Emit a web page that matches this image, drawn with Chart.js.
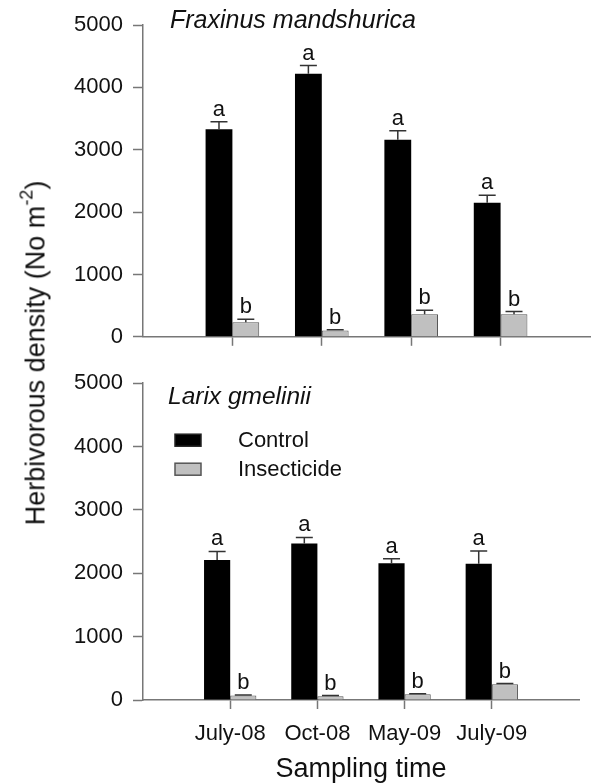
<!DOCTYPE html>
<html><head><meta charset="utf-8">
<script src="https://cdn.jsdelivr.net/npm/chart.js@4.4.1/dist/chart.umd.min.js"></script>
<style>
html,body{margin:0;padding:0;background:#fff;}
#wrap{position:relative;width:591px;height:783px;overflow:hidden;background:#fff;}
#c1{position:absolute;left:0;top:0;}
#c2{position:absolute;left:0;top:360px;}
#ytitle{position:absolute;left:36px;top:353px;transform:translate(-50%,-50%) rotate(-90deg);font:27px "Liberation Sans",Arial,sans-serif;white-space:nowrap;color:#111;line-height:1;}
#ytitle sup{font-size:18px;line-height:0;position:relative;top:-2px;vertical-align:super;}
</style></head>
<body><div id="wrap">
<canvas id="c1" width="591" height="360"></canvas>
<canvas id="c2" width="591" height="423"></canvas>
<div id="ytitle">Herbivorous density (No m<sup>-2</sup>)</div>
</div>
<script>
// ---- data ----
const categories = ['July-08', 'Oct-08', 'May-09', 'July-09'];
const seriesNames = ['Control', 'Insecticide'];
const yTicks = [0, 1000, 2000, 3000, 4000, 5000];
const fraxControl = [3330, 4220, 3160, 2150];
const fraxControlErr = [120, 130, 145, 120];
const fraxInsect = [235, 100, 360, 360];
const fraxInsectErr = [45, 15, 65, 45];
const larixControl = [2210, 2470, 2160, 2150];
const larixControlErr = [135, 95, 70, 200];
const larixInsect = [70, 60, 90, 250];
const larixInsectErr = [10, 10, 10, 10];
const controlLetters = ['a', 'a', 'a', 'a'];
const insectLetters = ['b', 'b', 'b', 'b'];
const panelTitles = ['Fraxinus mandshurica', 'Larix gmelinii'];
const xTitle = 'Sampling time';

// ---- helpers ----
const FONT = '"Liberation Sans", Arial, sans-serif';
const TEXT = '#111';
const AXIS = '#777';
const xLabels = ['', ...categories, ''];
const pad = a => [null, ...a, null];

const errLetterPlugin = {
  id: 'errLetters',
  afterDatasetsDraw(chart) {
    const ctx = chart.ctx, ys = chart.scales.y;
    chart.data.datasets.forEach((ds, di) => {
      const meta = chart.getDatasetMeta(di);
      meta.data.forEach((bar, i) => {
        const v = ds.data[i];
        if (v == null) return;
        const e = ds.errors[i];
        const x = bar.x;
        const yTop = ys.getPixelForValue(v);
        const yErr = ys.getPixelForValue(v + e);
        ctx.save();
        ctx.strokeStyle = '#333';
        ctx.lineWidth = 1.5;
        ctx.beginPath();
        ctx.moveTo(x, yTop); ctx.lineTo(x, yErr);
        ctx.moveTo(x - 8.5, yErr); ctx.lineTo(x + 8.5, yErr);
        ctx.stroke();
        ctx.fillStyle = TEXT;
        ctx.font = '22px ' + FONT;
        ctx.textAlign = 'center';
        ctx.textBaseline = 'alphabetic';
        ctx.fillText(ds.letters[i], x, yErr - 6);
        ctx.restore();
      });
    });
  }
};

const panelPlugin = {
  id: 'panelDeco',
  afterDraw(chart) {
    const o = chart.options.plugins.panelDeco || {};
    const ctx = chart.ctx, ca = chart.chartArea;
    ctx.save();
    ctx.fillStyle = TEXT;
    ctx.textAlign = 'left';
    ctx.textBaseline = 'alphabetic';
    ctx.font = 'italic ' + o.titleSize + 'px ' + FONT;
    ctx.fillText(o.title, ca.left + o.titleDx, ca.top + o.titleDy);
    if (o.legend) {
      chart.data.datasets.forEach((ds, i) => {
        const bx = ca.left + 32, by = ca.top + 51 + i * 29;
        ctx.fillStyle = ds.backgroundColor;
        ctx.fillRect(bx, by, 26, 12);
        ctx.strokeStyle = ds.legendBorder;
        ctx.lineWidth = 1.5;
        ctx.strokeRect(bx, by, 26, 12);
        ctx.fillStyle = TEXT;
        ctx.font = '22px ' + FONT;
        ctx.fillText(ds.label, ca.left + 95, by + 13);
      });
    }
    ctx.restore();
  }
};

function makeChart(id, ctrl, ctrlErr, ins, insErr, cfg) {
  return new Chart(document.getElementById(id), {
    type: 'bar',
    data: {
      labels: xLabels,
      datasets: [
        { label: seriesNames[0], data: pad(ctrl), errors: pad(ctrlErr), letters: pad(controlLetters),
          backgroundColor: '#000', borderColor: '#000', borderWidth: 0, legendBorder: '#222' },
        { label: seriesNames[1], data: pad(ins), errors: pad(insErr), letters: pad(insectLetters),
          backgroundColor: '#c0c0c0', borderColor: '#555', borderWidth: 1, legendBorder: '#555' }
      ]
    },
    options: {
      responsive: false, animation: false, devicePixelRatio: 1,
      categoryPercentage: 0.6, barPercentage: 1.0,
      layout: { padding: { left: 0, right: 1, top: cfg.top, bottom: 0 } },
      plugins: { legend: { display: false }, tooltip: { enabled: false }, title: { display: false },
        panelDeco: cfg.deco },
      scales: {
        x: {
          type: 'category', offset: false,
          grid: { offset: false, drawOnChartArea: false, drawTicks: true, tickLength: 9, tickWidth: 1.5,
            tickColor: c => (c.index === 0 || c.index === xLabels.length - 1) ? 'rgba(0,0,0,0)' : AXIS },
          border: { color: AXIS, width: 1.5 },
          ticks: { display: cfg.showX, autoSkip: false, maxRotation: 0, color: TEXT, padding: 12,
            font: { family: FONT, size: 22 } },
          title: { display: cfg.showX, text: xTitle, color: TEXT, font: { family: FONT, size: 27 },
            padding: { top: 0, bottom: -3 } },
          afterFit: s => { s.height = cfg.xh; }
        },
        y: {
          min: yTicks[0], max: yTicks[yTicks.length - 1],
          afterBuildTicks: s => { s.ticks = yTicks.map(v => ({ value: v })); },
          grid: { drawOnChartArea: false, drawTicks: true, tickLength: 10, tickWidth: 1.5, tickColor: AXIS },
          border: { color: AXIS, width: 1.5 },
          ticks: { color: TEXT, padding: 10, font: { family: FONT, size: 22 }, callback: v => String(v) },
          afterFit: s => { s.width = 143; }
        }
      }
    },
    plugins: [errLetterPlugin, panelPlugin]
  });
}

makeChart('c1', fraxControl, fraxControlErr, fraxInsect, fraxInsectErr,
  { top: 25, xh: 16, showX: false, deco: { title: panelTitles[0], titleSize: 25, titleDx: 27, titleDy: 3, legend: false } });
makeChart('c2', larixControl, larixControlErr, larixInsect, larixInsectErr,
  { top: 22, xh: 83, showX: true, deco: { title: panelTitles[1], titleSize: 24.5, titleDx: 25, titleDy: 21, legend: true } });
</script>
</body></html>
